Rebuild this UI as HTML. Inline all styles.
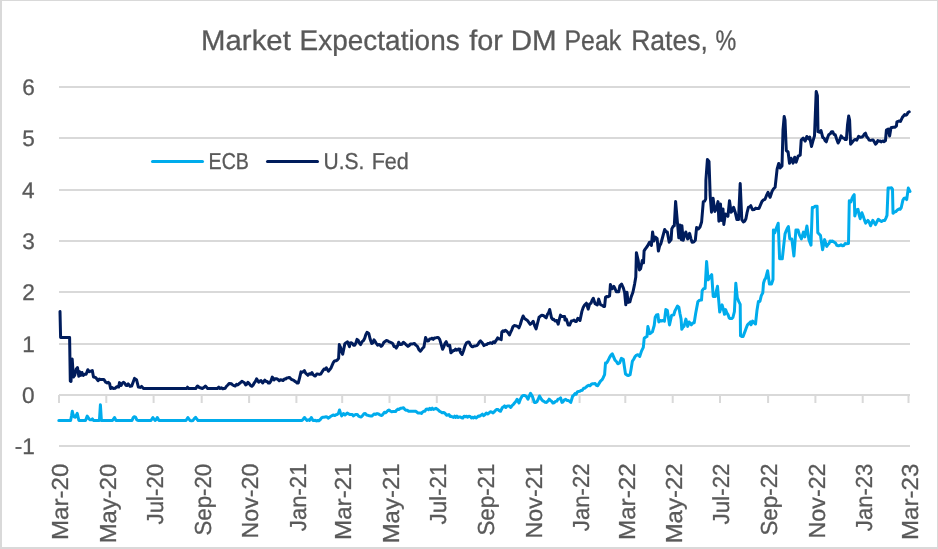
<!DOCTYPE html>
<html><head><meta charset="utf-8"><style>
html,body{margin:0;padding:0;background:#fff;}
body{width:938px;height:549px;overflow:hidden;position:relative;}
svg{position:absolute;left:0;top:0;will-change:transform;}
text{font-family:"Liberation Sans",sans-serif;fill:#595959;stroke:#595959;stroke-width:0.3px;text-rendering:geometricPrecision;}
</style></head><body>
<svg width="938" height="549" viewBox="0 0 938 549">
<rect x="0" y="0" width="938" height="549" fill="#fff"/>
<rect x="0" y="0" width="2" height="549" fill="#d9d9d9"/>
<rect x="0" y="0" width="938" height="1" fill="#d9d9d9"/>
<rect x="937" y="0" width="1" height="549" fill="#d9d9d9"/>
<rect x="0" y="547" width="938" height="2" fill="#d9d9d9"/>
<text x="201.09" y="49.90" font-size="28.4" textLength="89.72" lengthAdjust="spacingAndGlyphs">Market</text>
<text x="299.61" y="49.90" font-size="28.4" textLength="160.10" lengthAdjust="spacingAndGlyphs">Expectations</text>
<text x="469.19" y="49.90" font-size="28.4" textLength="33.59" lengthAdjust="spacingAndGlyphs">for</text>
<text x="510.78" y="49.90" font-size="28.4" textLength="45.95" lengthAdjust="spacingAndGlyphs">DM</text>
<text x="564.45" y="49.90" font-size="28.4" textLength="56.91" lengthAdjust="spacingAndGlyphs">Peak</text>
<text x="631.22" y="49.90" font-size="28.4" textLength="76.66" lengthAdjust="spacingAndGlyphs">Rates,</text>
<text x="715.57" y="49.90" font-size="28.4" textLength="20.76" lengthAdjust="spacingAndGlyphs">%</text>
<rect x="59" y="86" width="851" height="2" fill="#d9d9d9"/>
<text x="22.22" y="95.0" font-size="22.6">6</text>
<rect x="59" y="137" width="851" height="2" fill="#d9d9d9"/>
<text x="22.18" y="146.0" font-size="22.6">5</text>
<rect x="59" y="189" width="851" height="2" fill="#d9d9d9"/>
<text x="21.89" y="198.0" font-size="22.6">4</text>
<rect x="59" y="240" width="851" height="2" fill="#d9d9d9"/>
<text x="22.22" y="249.0" font-size="22.6">3</text>
<rect x="59" y="291" width="851" height="2" fill="#d9d9d9"/>
<text x="22.37" y="300.0" font-size="22.6">2</text>
<rect x="59" y="343" width="851" height="2" fill="#d9d9d9"/>
<text x="22.33" y="352.0" font-size="22.6">1</text>
<rect x="59" y="394" width="851" height="2" fill="#d9d9d9"/>
<text x="22.11" y="403.0" font-size="22.6">0</text>
<rect x="59" y="445" width="851" height="2" fill="#d9d9d9"/>
<text x="14.81" y="454.0" font-size="22.6">-1</text>
<rect x="58.0" y="395" width="2" height="8" fill="#d9d9d9"/>
<text transform="translate(68.30,539.98) rotate(-90)" font-size="23.2" textLength="76.32" lengthAdjust="spacingAndGlyphs">Mar-20</text>
<rect x="105.3" y="395" width="2" height="8" fill="#d9d9d9"/>
<text transform="translate(115.62,543.36) rotate(-90)" font-size="23.2" textLength="79.69" lengthAdjust="spacingAndGlyphs">May-20</text>
<rect x="152.6" y="395" width="2" height="8" fill="#d9d9d9"/>
<text transform="translate(162.95,524.45) rotate(-90)" font-size="23.2" textLength="60.72" lengthAdjust="spacingAndGlyphs">Jul-20</text>
<rect x="200.7" y="395" width="2" height="8" fill="#d9d9d9"/>
<text transform="translate(211.05,535.61) rotate(-90)" font-size="23.2" textLength="71.88" lengthAdjust="spacingAndGlyphs">Sep-20</text>
<rect x="248.1" y="395" width="2" height="8" fill="#d9d9d9"/>
<text transform="translate(258.37,538.50) rotate(-90)" font-size="23.2" textLength="74.81" lengthAdjust="spacingAndGlyphs">Nov-20</text>
<rect x="295.4" y="395" width="2" height="8" fill="#d9d9d9"/>
<text transform="translate(305.69,531.15) rotate(-90)" font-size="23.2" textLength="67.63" lengthAdjust="spacingAndGlyphs">Jan-21</text>
<rect x="341.2" y="395" width="2" height="8" fill="#d9d9d9"/>
<text transform="translate(351.47,539.98) rotate(-90)" font-size="23.2" textLength="76.56" lengthAdjust="spacingAndGlyphs">Mar-21</text>
<rect x="388.5" y="395" width="2" height="8" fill="#d9d9d9"/>
<text transform="translate(398.79,543.37) rotate(-90)" font-size="23.2" textLength="79.94" lengthAdjust="spacingAndGlyphs">May-21</text>
<rect x="435.8" y="395" width="2" height="8" fill="#d9d9d9"/>
<text transform="translate(446.11,524.45) rotate(-90)" font-size="23.2" textLength="60.94" lengthAdjust="spacingAndGlyphs">Jul-21</text>
<rect x="483.9" y="395" width="2" height="8" fill="#d9d9d9"/>
<text transform="translate(494.21,535.62) rotate(-90)" font-size="23.2" textLength="72.11" lengthAdjust="spacingAndGlyphs">Sep-21</text>
<rect x="531.2" y="395" width="2" height="8" fill="#d9d9d9"/>
<text transform="translate(541.54,538.51) rotate(-90)" font-size="23.2" textLength="75.05" lengthAdjust="spacingAndGlyphs">Nov-21</text>
<rect x="578.6" y="395" width="2" height="8" fill="#d9d9d9"/>
<text transform="translate(588.86,531.15) rotate(-90)" font-size="23.2" textLength="67.66" lengthAdjust="spacingAndGlyphs">Jan-22</text>
<rect x="624.3" y="395" width="2" height="8" fill="#d9d9d9"/>
<text transform="translate(634.63,539.98) rotate(-90)" font-size="23.2" textLength="76.60" lengthAdjust="spacingAndGlyphs">Mar-22</text>
<rect x="671.7" y="395" width="2" height="8" fill="#d9d9d9"/>
<text transform="translate(681.96,543.37) rotate(-90)" font-size="23.2" textLength="79.97" lengthAdjust="spacingAndGlyphs">May-22</text>
<rect x="719.0" y="395" width="2" height="8" fill="#d9d9d9"/>
<text transform="translate(729.28,524.45) rotate(-90)" font-size="23.2" textLength="60.98" lengthAdjust="spacingAndGlyphs">Jul-22</text>
<rect x="767.1" y="395" width="2" height="8" fill="#d9d9d9"/>
<text transform="translate(777.38,535.62) rotate(-90)" font-size="23.2" textLength="72.14" lengthAdjust="spacingAndGlyphs">Sep-22</text>
<rect x="814.4" y="395" width="2" height="8" fill="#d9d9d9"/>
<text transform="translate(824.71,538.51) rotate(-90)" font-size="23.2" textLength="75.08" lengthAdjust="spacingAndGlyphs">Nov-22</text>
<rect x="861.7" y="395" width="2" height="8" fill="#d9d9d9"/>
<text transform="translate(872.03,531.15) rotate(-90)" font-size="23.2" textLength="67.52" lengthAdjust="spacingAndGlyphs">Jan-23</text>
<rect x="907.5" y="395" width="2" height="8" fill="#d9d9d9"/>
<text transform="translate(917.80,539.98) rotate(-90)" font-size="23.2" textLength="76.44" lengthAdjust="spacingAndGlyphs">Mar-23</text>
<line x1="152.5" y1="161.5" x2="202.5" y2="161.5" stroke="#00ACEC" stroke-width="3" stroke-linecap="round"/>
<text x="208.59" y="168.80" font-size="23.0" textLength="40.34" lengthAdjust="spacingAndGlyphs">ECB</text>
<line x1="267.5" y1="161.5" x2="317.5" y2="161.5" stroke="#001C5C" stroke-width="3" stroke-linecap="round"/>
<text x="323.58" y="168.80" font-size="23.0" textLength="40.84" lengthAdjust="spacingAndGlyphs">U.S.</text>
<text x="371.63" y="168.80" font-size="23.0" textLength="37.27" lengthAdjust="spacingAndGlyphs">Fed</text>
<polyline points="58.8,420.5 70.6,420.5 71.5,416.0 72.3,411.3 73.2,415.0 74.1,416.8 75.4,417.2 77.2,413.4 78.9,420.5 85.5,420.5 87.2,416.1 89.0,418.9 90.1,419.8 91.3,419.8 92.4,418.9 93.5,420.5 99.4,420.5 100.4,404.8 101.4,420.5 112.5,420.5 114.5,417.5 116.0,420.5 132.0,420.5 133.2,417.7 134.3,416.7 135.5,417.1 136.8,419.9 138.0,420.5 151.0,420.5 152.9,417.5 155.0,420.5 156.2,419.5 157.3,417.5 159.0,420.5 186.0,420.5 187.9,417.5 190.0,420.5 191.5,420.8 193.0,420.5 194.3,418.5 195.6,417.3 196.8,419.1 198.0,420.5 302.0,420.5 303.2,419.2 304.5,417.5 305.8,419.2 307.0,420.5 308.2,419.8 309.5,420.5 311.3,417.5 313.0,420.5 314.1,420.4 315.2,420.3 316.4,420.9 317.5,420.5 318.8,420.7 320.1,419.7 321.4,418.1 322.7,417.2 323.8,417.3 324.9,417.1 326.0,416.8 327.1,417.0 328.2,418.1 329.6,417.3 330.9,416.2 332.2,415.5 333.6,415.0 334.8,415.6 336.0,414.7 337.2,414.5 338.6,413.0 339.5,410.0 340.5,413.0 341.7,415.9 343.5,413.5 345.0,415.0 347.2,413.1 348.6,413.9 350.0,414.5 351.2,414.4 352.3,414.5 353.5,415.9 354.8,414.9 356.0,414.5 357.3,414.5 358.6,416.1 359.9,416.8 361.2,417.0 362.6,415.5 363.9,413.8 365.3,413.6 366.6,415.0 368.0,415.3 369.4,415.8 370.7,415.9 371.8,416.1 372.9,415.2 374.0,414.0 375.6,414.4 377.1,413.6 378.6,414.0 380.0,415.0 381.1,415.5 382.3,415.0 383.4,413.6 384.5,412.2 385.6,412.7 386.7,411.9 387.8,410.6 388.9,410.0 390.2,411.0 391.6,411.8 393.1,411.6 394.5,411.5 395.6,411.5 396.8,409.9 397.9,409.1 399.1,409.5 400.4,408.2 401.6,408.2 403.5,407.8 404.8,409.4 406.1,410.3 407.3,410.3 408.6,411.2 415.4,411.2 416.6,411.8 417.8,412.9 419.0,413.0 420.2,412.9 421.4,413.4 422.6,412.0 423.8,411.3 424.9,411.2 426.1,409.2 427.3,409.0 428.5,409.7 429.8,408.3 431.0,409.5 432.2,408.2 433.4,409.4 434.7,408.8 435.9,408.3 437.2,409.2 438.4,410.2 439.7,411.4 441.0,412.0 442.1,412.7 443.3,412.6 444.4,412.8 445.5,413.9 446.7,415.3 447.8,415.1 448.9,414.5 450.1,416.5 451.2,416.3 452.3,416.9 453.5,417.4 454.6,416.1 455.8,417.4 456.9,416.2 458.1,417.5 459.2,416.9 460.4,417.0 461.5,417.7 462.8,418.1 464.1,416.2 465.3,416.7 466.6,416.3 467.8,417.2 469.0,416.2 470.1,416.4 471.3,417.9 472.5,417.2 473.6,418.0 474.8,416.9 476.0,418.0 477.3,417.0 478.6,415.9 479.8,416.2 481.1,415.1 482.4,414.1 483.7,415.7 485.0,414.6 486.3,413.1 487.7,414.0 489.0,413.0 490.3,411.8 491.6,412.0 492.8,412.9 494.1,412.0 495.4,410.4 496.6,409.6 497.9,409.4 499.2,410.7 500.5,411.3 502.4,407.5 503.5,406.9 504.6,405.9 505.8,407.5 506.9,406.2 508.2,405.9 509.4,406.1 510.7,407.5 512.0,405.7 513.2,404.7 514.5,403.0 515.8,401.6 517.1,399.2 519.0,403.0 520.6,398.7 522.2,396.0 523.5,395.4 524.8,395.4 526.4,396.4 528.0,399.2 529.2,396.2 530.5,393.4 532.5,396.6 534.4,402.4 535.6,402.6 536.9,401.7 538.2,399.3 539.5,396.0 541.4,399.2 542.7,400.8 544.0,401.3 545.2,402.3 546.5,402.4 547.8,401.2 549.1,399.2 550.4,400.4 551.6,401.2 552.9,403.0 554.2,402.7 555.5,401.4 556.8,401.1 558.1,399.2 559.3,398.9 560.6,397.9 561.9,402.4 563.1,401.8 564.4,399.8 565.7,399.3 567.0,400.4 568.3,400.5 569.5,401.2 570.8,402.4 572.7,396.0 573.9,395.1 575.0,393.5 576.2,394.2 577.3,391.9 578.5,391.5 579.8,391.3 581.0,390.5 582.3,390.2 583.6,388.2 584.9,388.2 586.2,387.0 587.5,385.9 588.7,385.3 590.0,385.8 591.3,384.2 592.6,383.8 593.9,383.8 595.2,383.6 596.4,385.3 597.7,385.7 599.1,383.4 600.5,381.1 601.9,379.9 603.2,377.7 604.6,374.7 605.5,362.9 606.6,363.0 607.8,361.1 609.6,357.4 611.0,355.1 612.3,353.8 613.6,356.9 615.0,360.2 616.4,361.5 617.8,363.8 619.6,362.9 621.4,358.4 623.3,359.3 624.4,366.8 625.5,374.0 626.9,375.0 628.3,375.6 630.1,374.7 631.2,368.5 632.4,361.1 633.8,359.2 635.1,356.5 636.5,355.1 637.8,354.7 639.7,356.5 641.5,351.1 643.3,347.4 644.2,338.3 645.6,337.2 647.0,336.5 647.9,326.5 649.7,333.7 651.0,332.9 652.4,331.9 654.2,325.5 655.2,317.3 656.5,315.0 657.9,314.6 658.8,321.9 660.1,320.5 661.5,321.0 662.9,320.5 664.4,321.3 665.8,309.6 667.3,310.3 668.4,317.4 669.5,324.9 671.6,315.4 673.8,314.7 674.9,311.0 676.0,308.9 677.5,306.0 678.9,307.4 680.0,313.7 681.1,319.1 681.8,329.3 682.9,327.3 684.0,326.4 685.9,319.1 687.7,326.4 689.1,322.0 691.3,324.9 692.8,323.0 694.2,322.7 695.7,313.3 697.9,301.6 699.1,300.5 700.3,300.1 701.5,300.1 702.2,290.7 703.7,288.5 705.1,288.5 706.6,261.6 708.1,279.8 710.2,276.8 711.7,274.7 713.2,296.5 715.3,296.5 716.4,290.8 717.5,286.3 718.6,299.2 719.7,312.0 720.9,308.4 722.1,304.9 723.3,309.2 724.5,314.3 725.6,309.6 726.8,312.7 728.0,314.6 729.2,317.9 730.4,318.6 731.7,318.6 732.9,317.5 734.4,311.6 735.8,283.2 737.3,297.8 738.7,301.4 740.2,304.4 740.5,335.7 741.8,336.5 743.1,336.4 745.3,330.6 746.4,327.6 747.5,324.8 749.0,323.4 750.4,321.9 751.1,324.8 752.6,321.1 754.0,322.7 755.5,324.0 757.0,310.2 758.4,301.4 759.9,301.4 761.3,295.6 762.8,292.7 763.5,283.2 764.6,279.8 765.7,278.1 767.6,270.8 769.4,284.0 771.5,284.0 773.0,279.6 773.4,230.0 774.8,232.8 776.1,228.7 778.2,223.2 779.6,258.7 781.0,258.5 782.3,258.7 783.6,246.5 785.0,234.1 786.1,231.0 787.3,228.3 788.4,226.6 789.8,238.9 791.8,238.9 793.9,256.0 795.9,230.0 798.0,230.0 799.4,234.8 801.4,238.9 803.4,232.1 804.8,236.9 806.9,226.0 808.9,239.6 811.0,245.1 812.3,207.5 813.7,207.5 815.1,206.2 817.1,206.2 817.8,232.8 819.1,233.9 820.5,235.5 822.6,249.8 824.6,239.6 826.7,246.4 827.8,244.6 829.0,243.6 830.1,241.0 831.2,241.5 832.4,241.0 833.5,241.7 835.5,243.0 836.9,245.4 838.3,245.8 839.7,245.5 841.0,244.8 842.4,245.8 843.8,245.5 845.1,243.6 846.5,243.7 848.5,243.5 849.3,200.7 850.9,201.8 852.0,198.5 853.1,196.2 854.2,194.7 854.8,216.0 856.4,210.0 858.0,209.4 859.1,214.7 860.2,218.7 861.9,212.7 863.5,217.1 864.6,220.4 865.7,223.1 867.9,220.4 869.2,222.1 870.6,225.8 872.8,220.4 874.1,222.5 875.5,224.7 876.9,221.8 878.3,219.3 879.9,220.4 881.5,221.5 883.1,220.4 884.8,220.4 885.9,218.1 887.0,215.4 888.1,188.1 890.3,188.1 891.4,187.8 892.5,189.2 893.0,213.3 894.4,212.0 895.8,211.6 897.4,210.0 899.0,208.9 900.1,209.2 901.2,207.8 902.9,200.1 904.2,198.2 905.6,198.0 906.7,199.6 908.3,188.1 910.0,191.4" fill="none" stroke="#00ACEC" stroke-width="3" stroke-linejoin="round" stroke-linecap="round"/>
<polyline points="60.0,311.5 60.6,337.5 69.6,337.5 70.3,381.0 71.0,381.5 72.2,359.0 73.4,377.0 74.7,375.4 76.3,368.9 77.5,367.6 78.8,376.2 79.6,371.7 80.8,375.4 82.0,372.5 83.3,375.4 84.7,374.3 86.1,374.2 87.8,369.7 89.4,371.7 90.8,371.2 92.3,370.5 93.5,377.0 94.8,377.2 96.0,377.9 98.0,380.7 99.3,379.1 100.5,379.5 101.7,379.4 103.8,379.4 105.8,382.3 107.1,383.0 108.3,382.3 109.6,383.6 110.6,388.5 112.0,387.5 113.4,388.5 115.0,388.3 116.6,386.8 118.6,387.1 119.5,382.6 121.1,385.5 122.2,383.4 123.4,382.3 124.7,383.2 125.9,385.2 127.0,385.5 128.2,383.9 130.1,386.4 131.7,386.1 133.1,382.2 134.5,378.4 136.5,379.7 138.4,387.1 140.0,387.4 141.6,386.4 143.5,388.5 186.7,388.5 187.5,387.2 188.5,388.5 195.7,388.5 197.5,386.0 199.4,387.5 200.9,388.0 202.4,388.5 203.9,387.5 205.4,386.0 207.6,388.5 217.3,388.5 218.8,387.2 220.0,388.5 221.3,387.8 222.7,388.8 224.0,388.5 225.2,388.2 226.3,386.5 227.8,385.0 229.3,383.4 231.5,383.8 232.7,385.0 234.0,385.6 235.2,386.0 236.5,384.4 237.7,385.0 239.0,383.8 240.4,382.7 241.9,381.2 243.2,382.0 244.4,382.7 245.7,384.9 246.8,384.3 247.9,382.3 249.2,383.6 250.5,385.4 251.8,386.3 253.0,385.2 254.2,383.0 255.4,381.5 256.6,378.8 258.7,382.2 259.9,381.1 261.0,380.5 262.6,383.0 264.8,380.1 266.0,381.4 267.2,381.4 268.4,383.1 269.6,382.9 271.0,380.8 272.3,377.1 274.0,380.0 275.0,378.8 276.4,378.7 277.8,379.4 279.2,380.8 280.5,379.8 281.9,380.0 283.1,380.5 284.4,379.0 285.6,379.0 286.9,377.9 288.1,377.8 289.4,377.4 291.5,379.5 292.6,379.8 293.8,380.3 294.9,381.4 296.0,381.9 297.2,383.1 298.3,382.9 299.6,377.8 301.0,371.9 302.1,372.3 303.3,371.7 304.4,370.6 305.6,373.1 306.7,374.1 307.9,375.3 309.3,373.7 310.6,374.2 312.0,372.6 313.1,374.7 314.3,375.7 315.4,376.0 316.7,374.0 318.1,374.1 319.4,374.4 320.8,374.0 322.9,370.6 324.0,369.1 325.2,369.4 326.3,367.8 328.4,371.2 329.8,369.6 331.1,367.8 332.2,365.1 333.4,362.4 334.5,361.0 335.9,360.8 337.2,360.2 338.6,358.3 339.3,344.6 340.4,347.0 341.6,351.6 342.7,354.2 344.8,343.9 346.1,342.7 347.5,341.9 349.5,346.6 350.0,342.9 351.2,342.8 352.4,343.6 353.5,345.2 354.7,345.2 355.9,343.0 357.0,339.4 358.2,340.2 359.4,343.1 360.6,344.6 362.1,341.6 363.5,340.5 364.7,338.2 365.8,334.7 367.0,332.3 368.8,333.5 370.2,339.3 371.7,343.5 372.9,342.7 374.0,339.9 375.2,341.7 376.4,343.5 377.6,345.2 378.8,344.6 379.9,344.8 381.1,346.4 382.4,345.1 383.8,342.5 385.1,341.4 386.4,340.5 387.8,340.9 389.1,341.9 390.5,342.3 391.7,342.8 392.8,343.7 394.0,346.5 395.1,346.6 396.3,348.1 397.5,346.1 398.7,342.3 400.4,344.6 401.9,344.2 403.4,342.3 404.5,343.1 405.7,344.3 406.9,345.4 408.0,346.4 409.2,345.5 410.4,344.0 411.8,344.0 413.1,343.8 414.5,343.5 415.9,345.2 417.4,346.4 418.9,349.6 420.4,351.1 421.6,349.7 422.7,348.2 423.9,347.0 425.6,337.6 427.4,341.1 428.6,340.8 429.7,339.0 430.9,338.8 432.1,338.2 433.3,339.3 434.4,338.1 435.6,337.9 436.8,337.6 438.2,337.5 439.7,339.4 441.1,344.2 442.6,349.3 443.8,346.9 445.0,343.3 446.2,341.7 447.9,345.8 449.7,345.2 450.9,352.8 452.0,351.9 453.2,350.5 454.3,350.6 455.5,349.2 456.6,350.2 457.7,349.6 458.9,349.9 460.0,349.3 458.6,349.1 459.8,350.6 460.9,353.1 462.1,354.5 463.6,350.5 465.1,345.6 466.6,342.8 468.0,342.0 469.2,342.3 470.4,344.8 471.6,346.5 472.8,346.8 474.2,345.9 475.5,345.9 476.9,345.6 478.1,344.2 479.3,342.1 480.5,340.9 481.7,342.2 482.8,343.7 484.0,345.6 485.3,344.7 486.6,344.6 488.0,343.4 489.3,343.2 490.6,342.8 492.0,343.4 493.4,341.8 494.7,342.6 496.1,340.4 497.6,337.9 498.8,339.0 500.0,338.7 501.2,339.7 501.8,332.0 503.0,330.8 504.1,331.4 505.3,330.2 506.7,331.2 508.1,332.7 509.5,334.9 510.7,332.0 511.8,329.8 513.0,326.6 514.2,325.6 515.4,325.8 516.6,326.0 517.8,326.6 518.9,327.8 520.3,324.5 521.7,319.8 523.1,316.0 524.5,318.5 526.0,319.5 527.4,320.4 528.8,322.4 530.2,324.3 531.7,323.1 533.2,321.3 534.7,325.9 536.1,329.0 537.6,323.0 539.1,317.2 540.5,316.1 541.8,315.2 543.2,315.4 544.7,316.7 546.2,317.8 547.4,314.4 548.5,312.9 549.7,309.5 551.5,317.8 552.7,319.5 553.8,319.3 555.0,321.0 556.8,320.5 558.2,324.2 559.4,319.2 560.5,315.1 561.6,316.4 562.7,316.4 564.6,316.4 565.0,320.1 566.4,319.2 568.2,325.1 569.6,325.1 571.4,321.0 572.8,320.8 574.1,320.1 575.2,321.4 576.4,321.4 577.8,318.3 578.9,319.1 580.0,320.5 581.9,311.4 583.2,307.5 584.6,305.0 586.4,303.2 588.2,309.1 589.6,304.1 591.0,303.2 592.1,300.3 593.3,298.2 595.1,303.7 597.3,305.0 598.7,299.1 600.5,304.6 602.4,305.5 603.5,306.5 604.6,306.4 605.5,297.3 606.6,296.6 607.8,296.8 609.6,295.9 610.4,284.6 612.2,288.8 613.9,286.4 615.1,288.7 616.3,291.7 617.5,291.5 618.7,291.7 619.9,285.8 621.6,284.1 623.4,288.2 624.6,292.3 625.8,304.8 627.0,292.3 628.1,302.4 629.9,301.8 631.1,297.1 632.9,292.3 634.6,284.1 635.8,277.0 636.4,252.7 638.2,260.4 639.4,269.9 640.6,268.7 642.3,260.4 643.5,262.8 644.1,250.9 645.2,249.1 646.4,247.5 647.5,246.0 649.5,242.2 651.4,245.4 652.6,232.0 653.9,241.0 655.2,237.1 657.1,238.4 658.4,251.1 659.6,246.0 660.9,243.5 662.8,236.5 664.7,229.5 666.0,231.6 667.3,232.0 669.2,242.2 671.1,239.7 671.8,228.9 673.0,226.6 674.3,225.7 675.6,201.5 677.5,223.1 678.8,237.8 680.0,225.0 681.3,239.7 681.9,225.7 683.2,240.3 684.5,235.2 685.8,232.0 687.7,239.0 689.6,233.3 690.9,238.6 692.1,242.2 693.7,242.0 695.3,240.3 696.6,227.6 698.5,228.9 700.0,227.0 701.6,222.0 703.3,201.6 704.5,201.3 705.7,199.1 705.9,180.2 707.4,159.5 709.0,161.4 710.2,195.8 711.5,212.2 713.1,198.3 714.8,211.4 716.4,208.9 718.0,201.6 718.9,221.2 720.5,204.0 721.3,220.4 723.0,208.9 723.8,224.5 725.4,213.9 726.6,215.0 727.9,216.3 729.5,200.7 731.1,212.2 732.4,210.7 733.6,207.3 735.2,212.2 736.9,219.6 738.5,219.6 740.2,183.5 741.8,219.6 743.4,222.0 744.6,221.3 745.9,218.8 747.1,212.5 748.4,207.3 749.6,207.0 750.8,205.7 752.5,209.8 754.1,209.6 755.7,208.1 757.4,208.6 759.0,208.4 760.5,204.9 762.0,201.3 763.5,199.9 765.0,199.3 766.5,195.5 768.0,192.3 770.1,197.3 772.1,191.3 773.6,188.8 775.1,187.3 777.1,169.2 778.7,163.5 780.1,168.0 782.0,166.0 783.0,130.0 784.2,116.5 785.0,120.0 786.3,150.5 788.1,152.0 789.5,163.2 791.1,158.2 793.1,163.2 794.7,157.2 796.1,162.2 798.1,156.2 800.2,155.2 801.2,140.1 803.2,138.1 805.2,141.1 806.8,136.5 808.6,138.8 809.7,137.1 811.5,146.5 812.7,141.8 814.5,135.9 816.2,91.5 817.4,95.7 818.0,131.7 819.8,132.3 821.0,130.6 822.8,137.7 824.0,138.2 825.1,140.6 826.3,141.8 827.5,137.8 828.7,134.7 830.2,133.8 831.6,131.7 832.8,131.8 834.0,134.5 835.2,134.7 836.7,139.2 838.1,143.0 839.6,140.3 841.1,135.9 842.6,137.9 844.1,138.3 845.2,139.6 846.4,139.4 847.5,125.0 848.7,116.0 849.6,120.0 850.6,144.2 852.0,142.6 853.5,140.6 855.1,139.4 856.8,140.1 858.6,136.4 860.5,137.3 861.9,137.1 863.2,136.0 864.4,133.9 865.5,133.2 866.8,136.9 868.0,138.1 869.1,140.1 870.5,140.4 871.8,140.1 873.2,140.1 874.4,142.0 875.5,144.2 876.6,143.2 877.8,140.5 879.0,141.2 880.2,141.1 881.4,141.9 882.8,140.9 884.1,141.7 885.5,140.5 886.4,130.1 888.2,129.1 889.6,136.0 891.0,127.8 892.1,127.5 893.3,127.3 894.8,127.2 896.4,126.0 896.9,121.9 898.1,121.4 899.3,121.0 900.5,121.4 902.4,117.3 903.5,116.0 904.6,114.6 905.8,115.2 906.9,114.6 908.0,112.5 909.2,111.8" fill="none" stroke="#001C5C" stroke-width="3" stroke-linejoin="round" stroke-linecap="round"/>
</svg></body></html>
